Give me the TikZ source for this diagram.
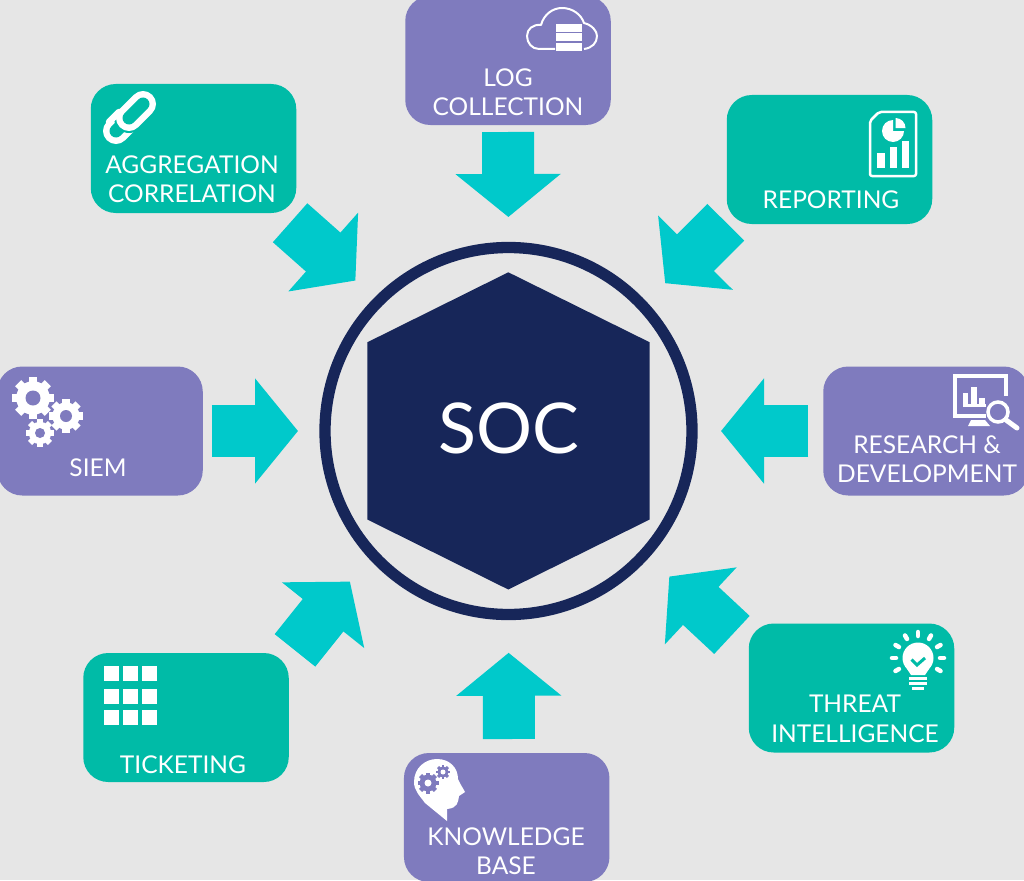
\documentclass[tikz,border=0pt]{standalone}
\usepackage{fontspec}
\setmainfont{Lato}
\usepackage{tikz}
\usetikzlibrary{arrows.meta}

\definecolor{pagegray}{HTML}{E6E6E6}
\definecolor{tealbox}{HTML}{00BBA7}
\definecolor{purplebox}{HTML}{7F7BBE}
\definecolor{cyanarrow}{HTML}{00C9CB}
\definecolor{socnavy}{HTML}{172659}

% one cog: centre, outer radius, hole radius, cog colour, hole colour
\newcommand{\cogwheel}[5]{
	\fill[#4] (#1) circle (0.8*#2);
	\foreach \a in {0,45,...,315}
		\draw[#4, line width=0.42*#2] (#1) ++(\a:0.6*#2) -- ++(\a:0.4*#2);
	\fill[#5] (#1) circle (#3);
}

\begin{document}
\begin{tikzpicture}[x=1pt, y=-1pt]
		\tikzstyle{box}=[rounded corners=25pt, minimum width=205.5pt, minimum height=129pt, outer sep=0pt];
		\tikzstyle{tealcard}=[box, fill=tealbox];
		\tikzstyle{purplecard}=[box, fill=purplebox];
		\tikzstyle{cardtext}=[text=white, align=center, inner sep=0pt, font=\fontsize{24.5}{29.5}\selectfont];
		\tikzstyle{bigarrow}=[draw=cyanarrow, line width=52pt, -{Triangle[length=43pt, width=103pt, fill=cyanarrow]}];
		\tikzstyle{iconline}=[draw=white, line width=2pt, line join=round];

		\useasboundingbox (0,0) rectangle (1024,880);
		\clip (0,0) rectangle (1024,880);
		\fill[pagegray] (0,0) rectangle (1024,880);

		% cards
		\node[purplecard] (logbox) at (508,60.5) {};
		\node[tealcard] (aggbox) at (193.5,148.5) {};
		\node[tealcard] (repbox) at (829.5,159.5) {};
		\node[purplecard] (resbox) at (926,431) {};
		\node[purplecard] (siembox) at (100,431) {};
		\node[purplecard] (kbbox) at (506.7,817.5) {};
		\node[tealcard] (threatbox) at (851.5,688) {};
		\node[tealcard] (tickbox) at (186,717.5) {};

		% centre
		\node[circle, draw=socnavy, line width=11.3pt, minimum size=367pt, outer sep=0pt] (ring) at (508.5,431) {};
		\fill[socnavy] (508.3,272.3) -- (649.7,342.3) -- (649.7,519.5) -- (508.3,589.5) -- (367.3,519.5) -- (367.3,342.3) -- cycle;
		\node[text=white, inner sep=0pt, font=\fontsize{70}{70}\selectfont] (soc) at (508.5,428) {SOC};

		% arrows
		\draw[bigarrow, shorten <=7pt, shorten >=30.5pt] (logbox.south) -- (ring.north);
		\draw[bigarrow, shorten <=14.7pt, shorten >=31.2pt] (aggbox.-37) -- (ring.135.8);
		\draw[bigarrow, shorten <=1.4pt, shorten >=31.9pt] (repbox.211) -- (ring.43.7);
		\draw[bigarrow, shorten <=15pt, shorten >=29pt] (resbox.west) -- (ring.east);
		\draw[bigarrow, shorten <=9pt, shorten >=27pt] (siembox.east) -- (ring.west);
		\draw[bigarrow, shorten <=14pt, shorten >=38.3pt] (kbbox.88.8) -- (ring.south);
		\draw[bigarrow, shorten <=23pt, shorten >=33.4pt] (threatbox.160) -- (ring.-42.2);
		\draw[bigarrow, shorten <=10pt, shorten >=35.6pt] (tickbox.30.6) -- (ring.222.9);

		% card texts
		\node[cardtext] (logtext) at (508,92) {LOG\\COLLECTION};
		\node[cardtext] (aggtext) at (192,179) {AGGREGATION\\CORRELATION};
		\node[cardtext] (reptext) at (831,200) {REPORTING};
		\node[cardtext] (restext) at (927,459) {RESEARCH \&\\DEVELOPMENT};
		\node[cardtext] (siemtext) at (98,468) {SIEM};
		\node[cardtext] (kbtext) at (506,851) {KNOWLEDGE\\BASE};
		\node[cardtext] (threattext) at (855,719) {THREAT\\INTELLIGENCE};
		\node[cardtext] (ticktext) at (183,765) {TICKETING};

		% cloud and stack
		\draw[iconline] (555,49) -- (539,49) .. controls (532,49) and (527,43) .. (527,36)
			.. controls (527,29) and (533,24) .. (541,25) .. controls (544,14) and (553,8) .. (562,8)
			.. controls (572,8) and (581,14) .. (584,23) .. controls (592,25) and (597,31) .. (597,36)
			.. controls (597,43) and (592,48) .. (584,49);
		\foreach \y in {24,33.5,43}
			\fill[white] (556,\y) rectangle (582,\y+8);

		% chain
		\draw[white, line width=26pt, line cap=round] (116,131) -- (130,117);
		\draw[tealbox, line width=13pt, line cap=round] (116,131) -- (130,117);
		\draw[tealbox, line width=30pt, line cap=round] (143,104) -- (129,118);
		\draw[white, line width=26pt, line cap=round] (143,104) -- (129,118);
		\draw[tealbox, line width=13pt, line cap=round] (143,104) -- (129,118);
		\draw[white, line width=6.5pt, line cap=round] (109,122) -- (119,112);

		% report page
		\draw[iconline, line width=2.5pt, rounded corners=2pt] (879,112) -- (916,112) -- (916,176) -- (870,176) -- (870,121) -- cycle;
		\fill[white] (893,131) -- (893,120) arc (-90:-360:11) -- cycle;
		\fill[white] (895.5,118) arc (-90:0:10) -- (895.5,128) -- cycle;
		\fill[white] (877,153) rectangle (885,168);
		\fill[white] (890,147) rectangle (897,168);
		\fill[white] (902,141) rectangle (909,168);

		% monitor and magnifier
		\draw[white, line width=4pt] (1006,396) -- (1006,376) -- (955,376) -- (955,416) -- (986,416);
		\fill[white] (968,426) -- (971,420) -- (985,420) -- (990,426) -- cycle;
		\fill[white] (963,393) rectangle (968,404);
		\fill[white] (971,387) rectangle (977,404);
		\fill[white] (979,398) rectangle (985,404);
		\fill[white] (963,404) rectangle (986,407);
		\draw[white, line width=3.5pt] (998,412) circle (10);
		\draw[white, line width=5pt, line cap=round] (1006,420) -- (1017,428);

		% gears
		\cogwheel{33,398}{21}{7.5}{white}{purplebox}
		\cogwheel{66,416}{17}{6}{white}{purplebox}
		\cogwheel{40,433}{14}{5}{white}{purplebox}

		% head
		\fill[white] (437,759) .. controls (450,759) and (458,768) .. (458,779) .. controls (460,784) and (463,788) .. (465,792)
			-- (459,796) .. controls (458,802) and (458,808) .. (447,809) -- (447,821) -- (425,803)
			.. controls (419,795) and (414,790) .. (414,782) .. controls (414,768) and (425,759) .. (437,759) -- cycle;
		\cogwheel{428,783}{10.5}{3.5}{purplebox}{white}
		\cogwheel{443,772}{7}{2.5}{purplebox}{white}

		% bulb
		\fill[white] (918,658) circle (15.5);
		\fill[white] (907,669) -- (929,669) -- (925,675) -- (911,675) -- cycle;
		\draw[white, line width=3pt] (909,678.5) -- (927,678.5);
		\draw[white, line width=3pt] (909,683.5) -- (927,683.5);
		\draw[white, line width=3pt] (912,688.5) -- (924,688.5);
		\foreach \a in {-30,0,30,60,90,120,150,180,210}
			\draw[white, line width=4.5pt, line cap=round] (918,658) ++(-\a:22) -- ++(-\a:4);
		\draw[tealbox, line width=3pt] (911.5,659.5) -- (917,665) -- (925,658);

		% ticket grid
		\foreach \x in {104,123,142}
			\foreach \y in {666,689,710}
				\fill[white] (\x,\y) rectangle (\x+14.5,\y+14.5);
	\end{tikzpicture}
\end{document}
